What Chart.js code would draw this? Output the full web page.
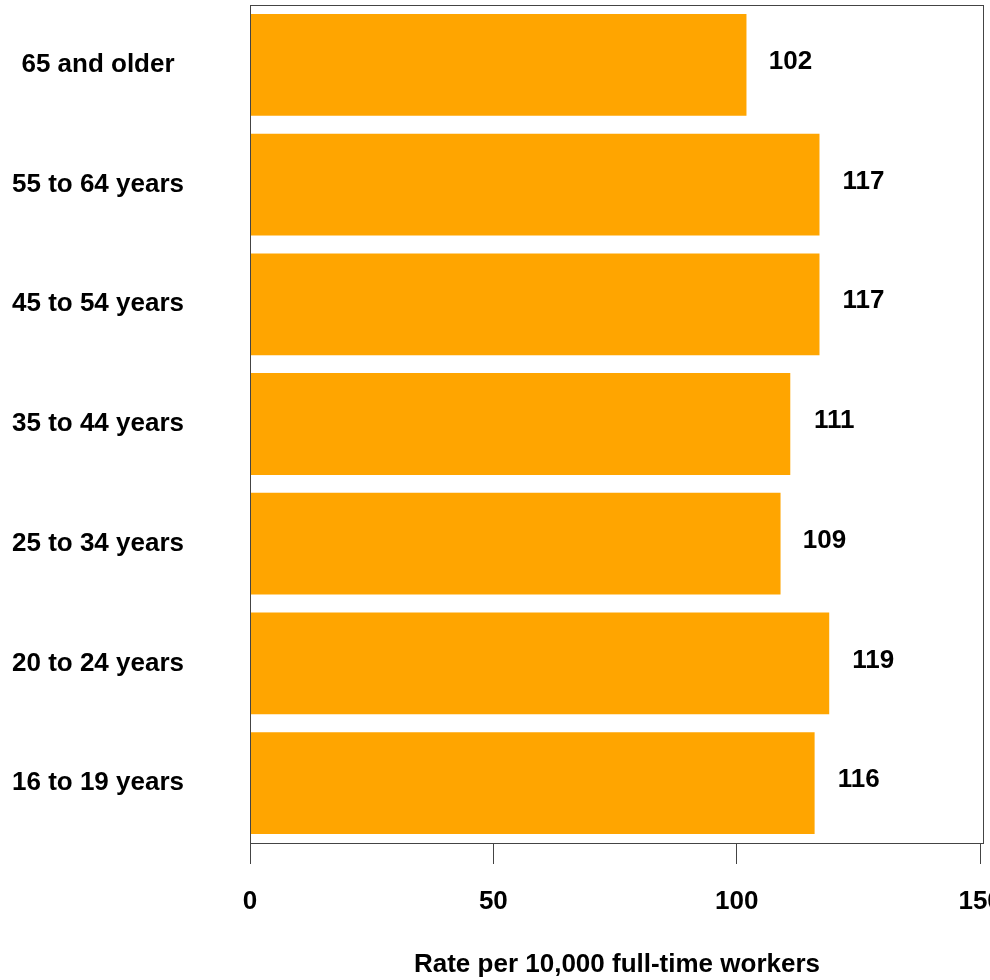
<!DOCTYPE html>
<html>
<head>
<meta charset="utf-8">
<script src="https://cdn.jsdelivr.net/npm/chart.js@4.4.1/dist/chart.umd.min.js"></script>
<style>
  html, body { margin: 0; padding: 0; background: #ffffff; overflow: hidden; }
  #wrap { position: relative; width: 990px; height: 980px; }
</style>
</head>
<body>
<div id="wrap"><canvas id="c" width="990" height="980"></canvas></div>
<script>
// ---- data ----
const categories = ["65 and older", "55 to 64 years", "45 to 54 years", "35 to 44 years", "25 to 34 years", "20 to 24 years", "16 to 19 years"];
const rates = [102, 117, 117, 111, 109, 119, 116];
const valueLabels = ["102", "117", "117", "111", "109", "119", "116"];
const xTickValues = [0, 50, 100, 150];
const xAxisTitle = "Rate per 10,000 full-time workers";

const FONT = '"Liberation Sans", Arial, Helvetica, sans-serif';
const BAR_COLOR = '#FFA500';
const LINE_COLOR = '#444444';

const boxPlugin = {
  id: 'boxPlugin',
  afterDraw(chart) {
    const a = chart.chartArea;
    const ctx = chart.ctx;
    ctx.save();
    ctx.strokeStyle = LINE_COLOR;
    ctx.lineWidth = 1;
    ctx.strokeRect(a.left + 0.5, a.top + 0.5, a.right - a.left - 1, a.bottom - a.top);
    ctx.restore();
  }
};

const valueLabelPlugin = {
  id: 'valueLabelPlugin',
  afterDatasetsDraw(chart) {
    const ctx = chart.ctx;
    const meta = chart.getDatasetMeta(0);
    ctx.save();
    ctx.font = 'bold 26px ' + FONT;
    ctx.fillStyle = '#000000';
    ctx.textAlign = 'center';
    ctx.textBaseline = 'middle';
    meta.data.forEach((bar, i) => {
      ctx.fillText(valueLabels[i], bar.x + 44, bar.y - 3);
    });
    ctx.restore();
  }
};

new Chart(document.getElementById('c'), {
  type: 'bar',
  data: {
    labels: categories,
    datasets: [{
      data: rates,
      backgroundColor: BAR_COLOR,
      borderWidth: 0,
      barPercentage: 0.85,
      categoryPercentage: 1.0
    }]
  },
  options: {
    indexAxis: 'y',
    responsive: false,
    animation: false,
    devicePixelRatio: 1,
    layout: { padding: { top: 5, right: 6, bottom: 0, left: 0 } },
    plugins: {
      legend: { display: false },
      tooltip: { enabled: false },
      title: { display: false }
    },
    scales: {
      x: {
        type: 'linear',
        min: 0,
        max: 150.8,
        afterBuildTicks(scale) {
          scale.ticks = xTickValues.map(v => ({ value: v }));
        },
        afterFit(scale) {
          scale.paddingRight = 0;
          scale.paddingLeft = 0;
          scale.height = 137;
        },
        grid: {
          display: true,
          drawOnChartArea: false,
          drawTicks: true,
          tickLength: 21,
          color: LINE_COLOR,
          lineWidth: 1
        },
        border: { display: false },
        ticks: {
          color: '#000000',
          padding: 22,
          maxRotation: 0,
          autoSkip: false,
          font: { family: FONT, size: 26, weight: 'bold' }
        },
        title: {
          display: true,
          text: xAxisTitle,
          color: '#000000',
          padding: { top: 31, bottom: 0 },
          font: { family: FONT, size: 26, weight: 'bold' }
        }
      },
      y: {
        afterFit(scale) {
          scale.width = 250;
          scale.paddingTop = 0;
          scale.paddingBottom = 0;
        },
        grid: { display: false, drawTicks: false },
        border: { display: false },
        ticks: {
          color: '#000000',
          padding: 66,
          crossAlign: 'center',
          autoSkip: false,
          font: { family: FONT, size: 26, weight: 'bold' }
        }
      }
    }
  },
  plugins: [boxPlugin, valueLabelPlugin]
});
</script>
</body>
</html>
